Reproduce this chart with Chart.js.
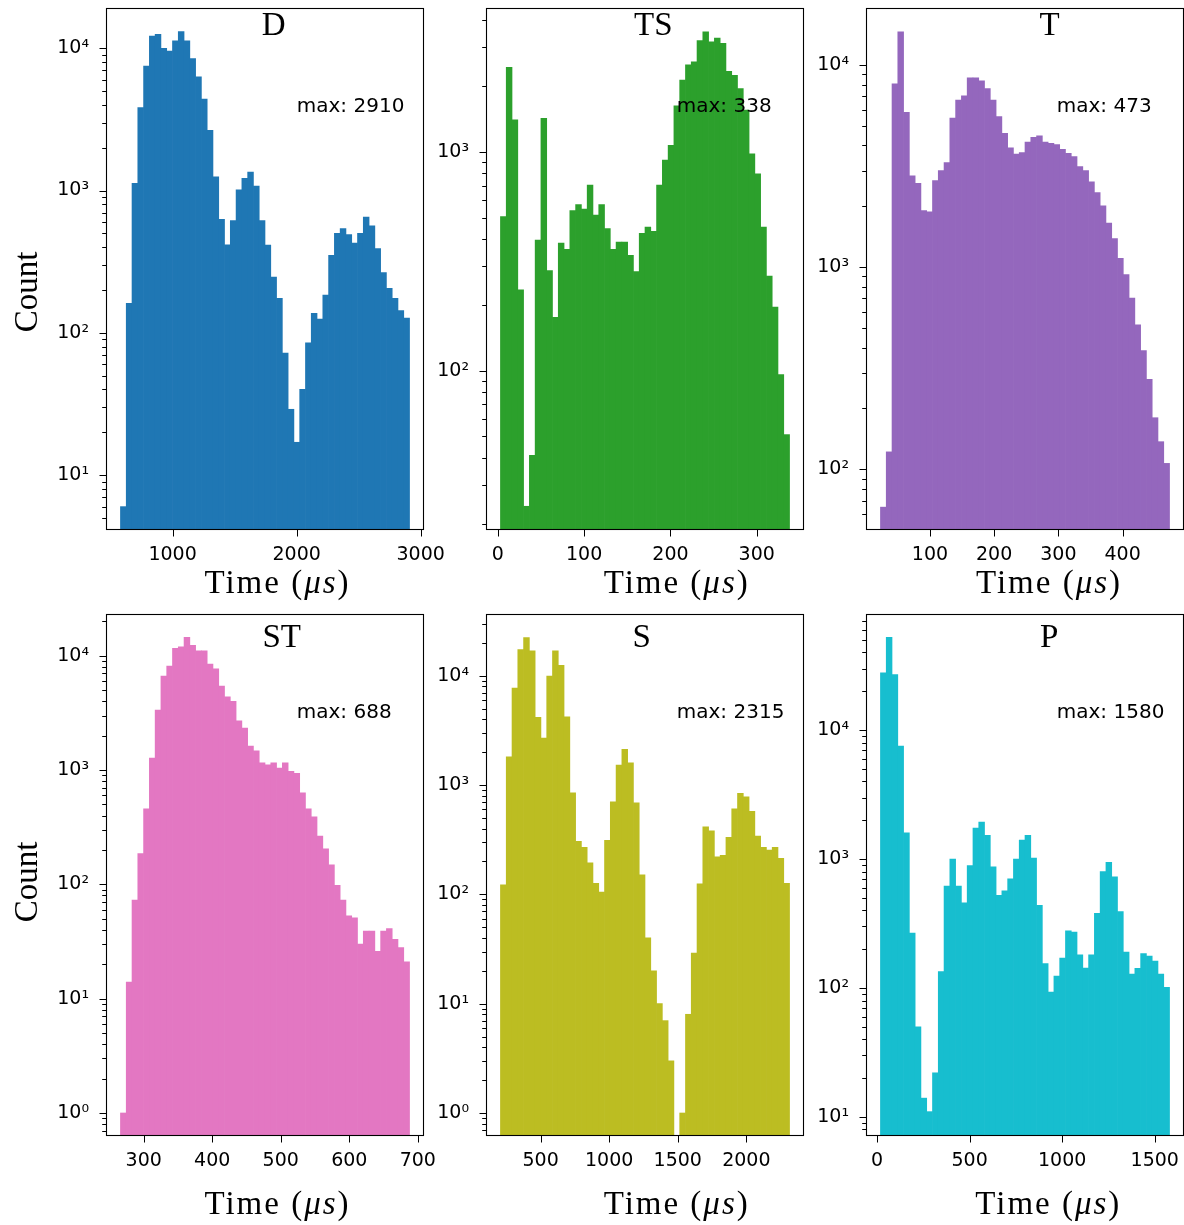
<!DOCTYPE html>
<html>
<head>
<meta charset="utf-8">
<script src="https://cdn.jsdelivr.net/npm/chart.js@4/dist/chart.umd.min.js"></script>
<style>
  html, body { margin: 0; padding: 0; background: #fff; overflow: hidden; }
  #fig { position: relative; width: 1184px; height: 1225px; background: #fff; }
  .panel { position: absolute; }
</style>
</head>
<body>
<div id="fig"></div>
<script>
// Event-time histograms, 50 equal-width bins between first and last event (µs)
const panelNames = ['D', 'TS', 'T', 'ST', 'S', 'P'];
const panelColors = ['#1f77b4', '#2ca02c', '#9467bd', '#e377c2', '#bcbd22', '#17becf'];

const rangeD  = [580, 2910];
const rangeTS = [3, 338];
const rangeT  = [23, 473];
const rangeST = [266, 688];
const rangeS  = [207, 2315];
const rangeP  = [18, 1580];

const countsD = [6, 161, 1125, 3830, 7510, 12200, 12550, 10000, 9570, 11300,
  13080, 11300, 8450, 6310, 4400, 2650, 1250, 628, 415, 615,
  1010, 1220, 1350, 1075, 615, 413, 246, 175, 72, 29,
  17, 40, 85, 137, 125, 184, 351, 501, 540, 490,
  427, 501, 652, 564, 391, 265, 205, 175, 143, 127];
const countsTS = [505, 2430, 1396, 234, 24, 41, 395, 1420, 286, 175,
  382, 358, 538, 573, 546, 703, 513, 573, 445, 358,
  386, 386, 336, 283, 424, 452, 433, 703, 916, 1070,
  1617, 2124, 2494, 2570, 3212, 3524, 3170, 3304, 3126, 2328,
  2234, 1941, 1550, 976, 791, 452, 270, 195, 96, 51];
const countsT = [65, 122, 8060, 14600, 5840, 2830, 2600, 1905, 1876, 2680,
  3005, 3290, 5470, 6710, 7030, 8630, 8630, 8360, 7640, 6710,
  5560, 4590, 3890, 3630, 3690, 4160, 4390, 4460, 4160, 4100,
  4040, 3830, 3660, 3520, 3140, 3005, 2640, 2340, 2010, 1650,
  1385, 1107, 918, 703, 519, 387, 279, 180, 137, 107];
const countsST = [1, 14, 73, 186, 458, 1273, 3350, 6640, 8130, 11600,
  12000, 14500, 12330, 11060, 11060, 8460, 7700, 5430, 4380, 3990,
  2700, 2330, 1620, 1475, 1157, 1111, 1157, 1040, 1157, 973,
  935, 633, 458, 390, 264, 205, 148, 98, 73, 53,
  51, 30, 39, 39, 26, 39, 41, 33, 28, 21];
const countsS = [122, 1815, 7710, 17400, 22400, 16900, 4160, 2690, 9940, 16900,
  12450, 4220, 849, 305, 269, 194, 126, 105, 313, 703,
  1525, 2120, 1600, 689, 151, 40, 20, 10, 7, 3,
  0, 1, 8, 29, 125, 415, 381, 220, 228, 332,
  607, 840, 780, 574, 341, 269, 254, 269, 214, 126];
const countsP = [27800, 52400, 26900, 7510, 1596, 267, 50, 14, 11, 22,
  134, 617, 1000, 617, 457, 891, 1740, 1934, 1525, 871,
  522, 567, 702, 1000, 1403, 1525, 1017, 437, 155, 93,
  124, 171, 277, 271, 181, 143, 181, 379, 801, 942,
  728, 392, 190, 128, 142, 185, 177, 162, 128, 101];

// y-axis display limits
const yLimD  = [4.11, 19190];
const yLimTS = [18.7, 4530];
const yLimT  = [50.1, 19140];
const yLimST = [0.629, 23190];
const yLimS  = [0.616, 36720];
const yLimP  = [7.12, 79430];

const xTicksD  = [1000, 2000, 3000];
const xTicksTS = [0, 100, 200, 300];
const xTicksT  = [100, 200, 300, 400];
const xTicksST = [300, 400, 500, 600, 700];
const xTicksS  = [500, 1000, 1500, 2000];
const xTicksP  = [0, 500, 1000, 1500];

const maxLabels = ['max: 2910', 'max: 338', 'max: 473', 'max: 688', 'max: 2315', 'max: 1580'];

// ---- layout ----
const FRAME_W = 318, FRAME_H = 522;
const FRAME_LEFT = [106, 486, 866];
const FRAME_TOP = [8, 614];
const Y_AXIS_W = 106, TOP_PAD = 8, X_AXIS_H = 90, RIGHT_PAD = 46;
const CW = Y_AXIS_W + FRAME_W + RIGHT_PAD, CH = TOP_PAD + FRAME_H + X_AXIS_H;

const SERIF = '"Liberation Serif", "Times New Roman", serif';
const SANS = '"DejaVu Sans", sans-serif';
const SUP = ['⁰', '¹', '²', '³', '⁴', '⁵', '⁶', '⁷', '⁸', '⁹'];
const supText = n => (n < 0 ? '⁻' : '') + String(Math.abs(n)).split('').map(d => SUP[+d]).join('');

const panels = [
  { range: rangeD,  counts: countsD,  yLim: yLimD,  xTicks: xTicksD,
    deco: { titleX: 167.7, titleY: 27.3, xlabX: 171.5, xlabY: 62.7, countY: 284 } },
  { range: rangeTS, counts: countsTS, yLim: yLimTS, xTicks: xTicksTS,
    deco: { titleX: 167.3, titleY: 27.3, xlabX: 190.7, xlabY: 62.7 } },
  { range: rangeT,  counts: countsT,  yLim: yLimT,  xTicks: xTicksT,
    deco: { titleX: 183.7, titleY: 27.3, xlabX: 183.0, xlabY: 62.7 } },
  { range: rangeST, counts: countsST, yLim: yLimST, xTicks: xTicksST,
    deco: { titleX: 175.7, titleY: 33.3, xlabX: 171.5, xlabY: 78, countY: 268 } },
  { range: rangeS,  counts: countsS,  yLim: yLimS,  xTicks: xTicksS,
    deco: { titleX: 155.7, titleY: 33.3, xlabX: 190.7, xlabY: 78 } },
  { range: rangeP,  counts: countsP,  yLim: yLimP,  xTicks: xTicksP,
    deco: { titleX: 183.3, titleY: 33.3, xlabX: 182.3, xlabY: 78 } },
];

// log-axis tick list: decades (major) plus 2..9 multiples (minor) inside the limits
function logTicks(lo, hi) {
  const out = [];
  for (let e = Math.floor(Math.log10(lo)); e <= Math.ceil(Math.log10(hi)); e++) {
    for (let k = 1; k <= 9; k++) {
      const v = k * Math.pow(10, e);
      if (v >= lo * 0.9999 && v <= hi * 1.0001) out.push({ value: v, major: k === 1, exp: e });
    }
  }
  return out;
}

// keep the plot frame exactly where the layout puts it
function noLabelOverhang(s) {
  s.paddingTop = 0; s.paddingBottom = 0; s.paddingLeft = 0; s.paddingRight = 0;
}

// frame, tick marks and in-axes text
const panelDecor = {
  id: 'panelDecor',
  afterDatasetsDraw(chart, args, o) {
    const { ctx, chartArea: a } = chart;
    const xs = chart.scales.x, ys = chart.scales.y;
    ctx.save();
    ctx.strokeStyle = '#000';
    ctx.lineWidth = 1;
    ctx.beginPath();
    ys.ticks.forEach(t => {
      const py = Math.round(ys.getPixelForValue(t.value)) + 0.5;
      const len = t.major ? 6.5 : 3.8;
      ctx.moveTo(a.left, py); ctx.lineTo(a.left - len, py);
    });
    xs.ticks.forEach(t => {
      const px = Math.round(xs.getPixelForValue(t.value)) + 0.5;
      ctx.moveTo(px, a.bottom); ctx.lineTo(px, a.bottom + 6.5);
    });
    ctx.stroke();
    ctx.lineWidth = 1.1;
    ctx.strokeRect(Math.round(a.left) + 0.5, Math.round(a.top) + 0.5,
      Math.round(a.right - a.left) - 1, Math.round(a.bottom - a.top) - 1);

    ctx.fillStyle = '#000';
    ctx.textBaseline = 'alphabetic';
    // panel name
    ctx.font = `33px ${SERIF}`;
    ctx.textAlign = 'center';
    ctx.fillText(o.title, a.left + o.titleX, a.top + o.titleY);
    // max annotation
    ctx.font = `20px ${SANS}`;
    ctx.textAlign = 'left';
    ctx.fillText(o.maxText, a.left + 0.6 * (a.right - a.left), a.top + 0.2 * (a.bottom - a.top));
    // x label: Time (µs) with italic math symbols
    ctx.textAlign = 'left';
    if ('letterSpacing' in ctx) ctx.letterSpacing = '2px';
    const parts = [['Time (', `33px ${SERIF}`], ['μs', `italic 33px ${SERIF}`], [')', `33px ${SERIF}`]];
    let total = 0;
    parts.forEach(p => { ctx.font = p[1]; total += ctx.measureText(p[0]).width; });
    let cx = a.left + o.xlabX - total / 2;
    parts.forEach(p => { ctx.font = p[1]; ctx.fillText(p[0], cx, a.bottom + o.xlabY); cx += ctx.measureText(p[0]).width; });
    if ('letterSpacing' in ctx) ctx.letterSpacing = '0px';
    // y label
    if (o.countY !== undefined) {
      ctx.save();
      ctx.translate(37, a.top + o.countY);
      ctx.rotate(-Math.PI / 2);
      ctx.font = `33px ${SERIF}`;
      ctx.textAlign = 'center';
      ctx.fillText('Count', 0, 0);
      ctx.restore();
    }
    ctx.restore();
  }
};

const fig = document.getElementById('fig');
panels.forEach((p, i) => {
  const col = i % 3, row = Math.floor(i / 3);
  const div = document.createElement('div');
  div.className = 'panel';
  div.style.left = (FRAME_LEFT[col] - Y_AXIS_W) + 'px';
  div.style.top = (FRAME_TOP[row] - TOP_PAD) + 'px';
  const cv = document.createElement('canvas');
  cv.width = CW; cv.height = CH;
  cv.style.width = CW + 'px'; cv.style.height = CH + 'px';
  div.appendChild(cv);
  fig.appendChild(div);

  const [lo, hi] = p.range;
  const n = p.counts.length;
  const w = (hi - lo) / n;
  const pts = p.counts.map((c, k) => ({ x: lo + (k + 0.5) * w, y: c }));
  const margin = 0.05 * (hi - lo);
  const yt = logTicks(p.yLim[0], p.yLim[1]);

  new Chart(cv, {
    type: 'bar',
    data: { datasets: [{ data: pts, backgroundColor: panelColors[i], borderWidth: 0,
      barPercentage: 1, categoryPercentage: 1 }] },
    options: {
      responsive: false, animation: false, devicePixelRatio: 1,
      layout: { padding: { left: 0, top: TOP_PAD, right: RIGHT_PAD, bottom: 0 } },
      plugins: {
        legend: { display: false }, tooltip: { enabled: false },
        panelDecor: Object.assign({ title: panelNames[i], maxText: maxLabels[i] }, p.deco)
      },
      scales: {
        x: {
          type: 'linear', min: lo - margin, max: hi + margin, offset: false, bounds: 'data',
          grid: { display: false, drawTicks: false, offset: false }, border: { display: false },
          afterFit: s => { s.height = X_AXIS_H; noLabelOverhang(s); },
          afterBuildTicks: s => { s.ticks = p.xTicks.map(v => ({ value: v })); },
          ticks: { autoSkip: false, maxRotation: 0, padding: 14, color: '#000',
            font: { family: SANS, size: 19 }, callback: v => String(v) }
        },
        y: {
          type: 'logarithmic', min: p.yLim[0], max: p.yLim[1], bounds: 'data',
          grid: { display: false, drawTicks: false }, border: { display: false },
          afterFit: s => { s.width = Y_AXIS_W; noLabelOverhang(s); },
          afterBuildTicks: s => { s.ticks = yt.map(t => ({ value: t.value, major: t.major, exp: t.exp })); },
          ticks: { autoSkip: false, padding: 17, color: '#000', font: { family: SANS, size: 19 },
            callback: (v, idx, ticks) => ticks[idx].major ? '10' + supText(ticks[idx].exp) : '' }
        }
      }
    },
    plugins: [panelDecor]
  });
});
</script>
</body>
</html>
